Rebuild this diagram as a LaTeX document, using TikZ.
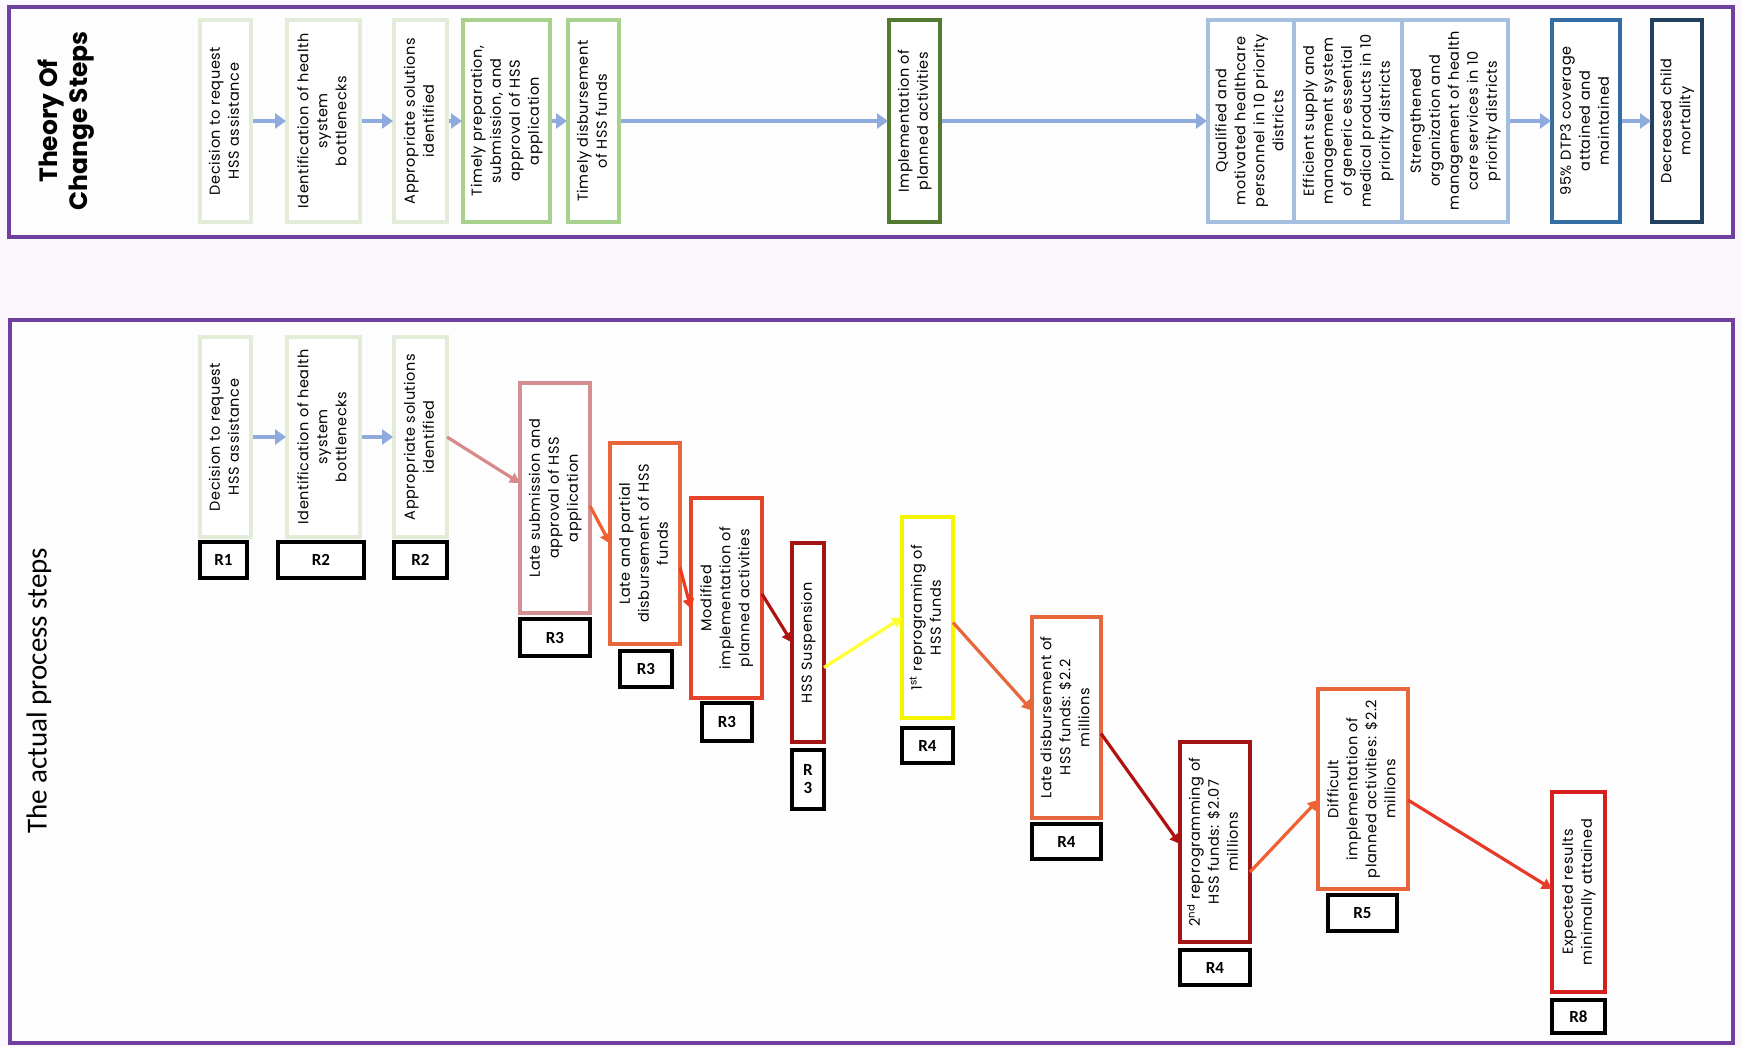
\documentclass[tikz,border=0pt]{standalone}
\usepackage{fontspec}
\usepackage{graphicx}
\setmainfont{Carlito}
\newfontfamily\boxfont[LetterSpace=4]{Poppins}
\newfontfamily\headfont{Poppins}
\usetikzlibrary{arrows.meta}
\definecolor{framec}{HTML}{7040A0}
\definecolor{paleg}{HTML}{E2ECD8}
\definecolor{midg}{HTML}{A9D18E}
\definecolor{darkg}{HTML}{537A33}
\definecolor{arrblue}{HTML}{8FAADC}
\definecolor{lblue}{HTML}{A4C0DE}
\definecolor{mblue}{HTML}{336DA3}
\definecolor{navy}{HTML}{24405F}
\definecolor{rose}{HTML}{D49090}
\definecolor{orng}{HTML}{E8663C}
\definecolor{redor}{HTML}{E6432B}
\definecolor{dred}{HTML}{A31515}
\definecolor{yell}{HTML}{F5F500}
\definecolor{redd}{HTML}{D62020}
\definecolor{bgout}{HTML}{FCF7FC}
\definecolor{bgin}{HTML}{FDFDFD}
\definecolor{arrrose}{HTML}{D88A8A}
\definecolor{arror}{HTML}{F06030}
\definecolor{arrred}{HTML}{F03A1E}
\definecolor{arrdred}{HTML}{B01212}
\definecolor{arryel}{HTML}{FFFF33}
\definecolor{arrred2}{HTML}{E83A2A}
\newcommand{\vt}[1]{\rotatebox{90}{\begin{tabular}{@{}c@{}}#1\end{tabular}}}
\begin{document}
\begin{tikzpicture}[x=1pt,y=-1pt,
 tbox/.style={rectangle, inner sep=0pt, outer sep=0pt, fill=white, line width=3.5pt, font=\boxfont\fontsize{14.5}{19}\selectfont},
 sz/.style 2 args={minimum width=#1pt, minimum height=#2pt},
 rbox/.style={rectangle, draw=black, line width=3.5pt, fill=white, inner sep=0pt, outer sep=0pt, font=\bfseries\fontsize{17}{18}\selectfont},
 barr/.style={draw=arrblue, line width=4pt, -{Triangle[length=11pt,width=15pt]}, shorten <=2pt, shorten >=1pt},
 darr/.style={draw=#1, line width=3.2pt, -{Triangle[length=10pt,width=11pt]}}]
\useasboundingbox (0,0) rectangle (1742,1047);
\fill[bgout] (0,0) rectangle (1742,1047);
% frames
\draw[framec, line width=4pt, fill=bgin] (9,7) rectangle (1733,237);
\draw[framec, line width=4pt, fill=bgin] (10,320) rectangle (1733,1043);
% titles
\node[font=\headfont\bfseries\fontsize{25}{30}\selectfont, inner sep=0pt] (title1) at (66,121) {\vt{Theory Of\\Change Steps}};
\node[font=\fontsize{29}{32}\selectfont, inner sep=0pt] (title2) at (39,691) {\rotatebox{90}{The actual process steps}};
% ---------- top row ----------
\node[tbox, draw=paleg, sz={51}{202}] (t1) at (225.5,121) {\vt{Decision to request\\HSS assistance}};
\node[tbox, draw=paleg, sz={73}{202}] (t2) at (323.5,121) {\vt{Identification of health\\system\\bottlenecks}};
\node[tbox, draw=paleg, sz={53}{202}] (t3) at (420.5,121) {\vt{Appropriate solutions\\identified}};
\node[tbox, draw=midg, sz={87}{202}] (t4) at (506.5,121) {\vt{Timely preparation,\\submission, and\\approval of HSS\\application}};
\node[tbox, draw=midg, sz={51}{202}] (t5) at (593.5,121) {\vt{Timely disbursement\\of HSS funds}};
\node[tbox, draw=darkg, sz={51}{202}] (t6) at (914.5,121) {\vt{Implementation of\\planned activities}};
\node[tbox, draw=lblue, sz={86}{202}] (t7a) at (1251,121) {\vt{Qualified and\\motivated healthcare\\personnel in 10 priority\\districts}};
\node[tbox, draw=lblue, sz={108}{202}] (t7b) at (1348,121) {\vt{Efficient supply and\\management system\\of generic essential\\medical products in 10\\priority districts}};
\node[tbox, draw=lblue, sz={106}{202}] (t7c) at (1455,121) {\vt{Strengthened\\organization and\\management of health\\care services in 10\\priority districts}};
\node[tbox, draw=mblue, sz={68}{202}] (t8) at (1586,121) {\vt{95\% DTP3 coverage\\attained and\\maintained}};
\node[tbox, draw=navy, sz={50}{202}] (t9) at (1677,121) {\vt{Decreased child\\mortality}};
\draw[barr] (t1) -- (t2);
\draw[barr] (t2) -- (t3);
\draw[barr] (t3) -- (t4);
\draw[barr] (t4) -- (t5);
\draw[barr] (t5) -- (t6);
\draw[barr] (t6) -- (t7a);
\draw[barr] (t7c) -- (t8);
\draw[barr] (t8) -- (t9);
% ---------- bottom row ----------
\node[tbox, draw=paleg, sz={51}{200}] (b1) at (225.5,437) {\vt{Decision to request\\HSS assistance}};
\node[tbox, draw=paleg, sz={73}{200}] (b2) at (323.5,437) {\vt{Identification of health\\system\\bottlenecks}};
\node[tbox, draw=paleg, sz={53}{200}] (b3) at (420.5,437) {\vt{Appropriate solutions\\identified}};
\node[tbox, draw=rose, sz={70}{230}] (b4) at (555,498) {\vt{Late submission and\\approval of HSS\\application}};
\node[tbox, draw=orng, sz={70}{201}] (b5) at (645,543.5) {\vt{Late and partial\\disbursement of HSS\\funds}};
\node[tbox, draw=redor, sz={71}{200}] (b6) at (726.5,598) {\vt{Modified\\implementation of\\planned activities}};
\node[tbox, draw=dred, sz={32}{199}] (b7) at (808,642.5) {\vt{HSS Suspension}};
\node[tbox, draw=yell, sz={51}{201}] (b8) at (927.5,617.5) {\vt{1\textsuperscript{st} reprograming of\\HSS funds}};
\node[tbox, draw=orng, sz={69}{201}] (b9) at (1066.5,717.5) {\vt{Late disbursement of\\HSS funds: \$2.2\\millions}};
\node[tbox, draw=dred, sz={70}{200}] (b10) at (1215,842) {\vt{2\textsuperscript{nd} reprogramming of\\HSS funds: \$2.07\\millions}};
\node[tbox, draw=orng, sz={90}{200}] (b11) at (1363,789) {\vt{Difficult\\implementation of\\planned activities: \$2.2\\millions}};
\node[tbox, draw=redd, sz={53}{200}] (b12) at (1578.5,892) {\vt{Expected results\\minimally attained}};
% R labels
\node[rbox, sz={47}{36}] (r1) at (223.5,560) {R1};
\node[rbox, sz={86}{36}] (r2) at (321,560) {R2};
\node[rbox, sz={53}{36}] (r3) at (420.5,560) {R2};
\node[rbox, sz={70}{37}] (r4) at (555,637.5) {R3};
\node[rbox, sz={52}{36}] (r5) at (646,669) {R3};
\node[rbox, sz={50}{38}] (r6) at (727,722) {R3};
\node[rbox, sz={32}{59}, align=center] (r7) at (808,779.5) {R\\3};
\node[rbox, sz={51}{35}] (r8) at (927.5,745.5) {R4};
\node[rbox, sz={69}{35}] (r9) at (1066.5,841.5) {R4};
\node[rbox, sz={70}{35}] (r10) at (1215,967.5) {R4};
\node[rbox, sz={69}{36}] (r11) at (1362.5,913) {R5};
\node[rbox, sz={53}{33}] (r12) at (1578.5,1016.5) {R8};
% bottom arrows
\draw[barr] (b1) -- (b2);
\draw[barr] (b2) -- (b3);
\draw[darr=arrrose] (b3.east) -- ([yshift=15pt]b4.west);
\draw[darr=arror] ([yshift=-8pt]b4.east) -- (b5.west);
\draw[darr=arrred] ([yshift=-24pt]b5.east) -- ([yshift=-11pt]b6.west);
\draw[darr=arrdred] ([yshift=4pt]b6.east) -- (b7.west);
\draw[darr=arryel] ([yshift=-25pt]b7.east) -- (b8.west);
\draw[darr=orng] ([yshift=-5pt]b8.east) -- ([yshift=7pt]b9.west);
\draw[darr=arrdred] ([yshift=-16pt]b9.east) -- ([yshift=-2pt]b10.west);
\draw[darr=arror] ([yshift=-30pt]b10.east) -- ([yshift=-11pt]b11.west);
\draw[darr=arrred2] ([yshift=-11pt]b11.east) -- ([yshift=3pt]b12.west);
\end{tikzpicture}
\end{document}
